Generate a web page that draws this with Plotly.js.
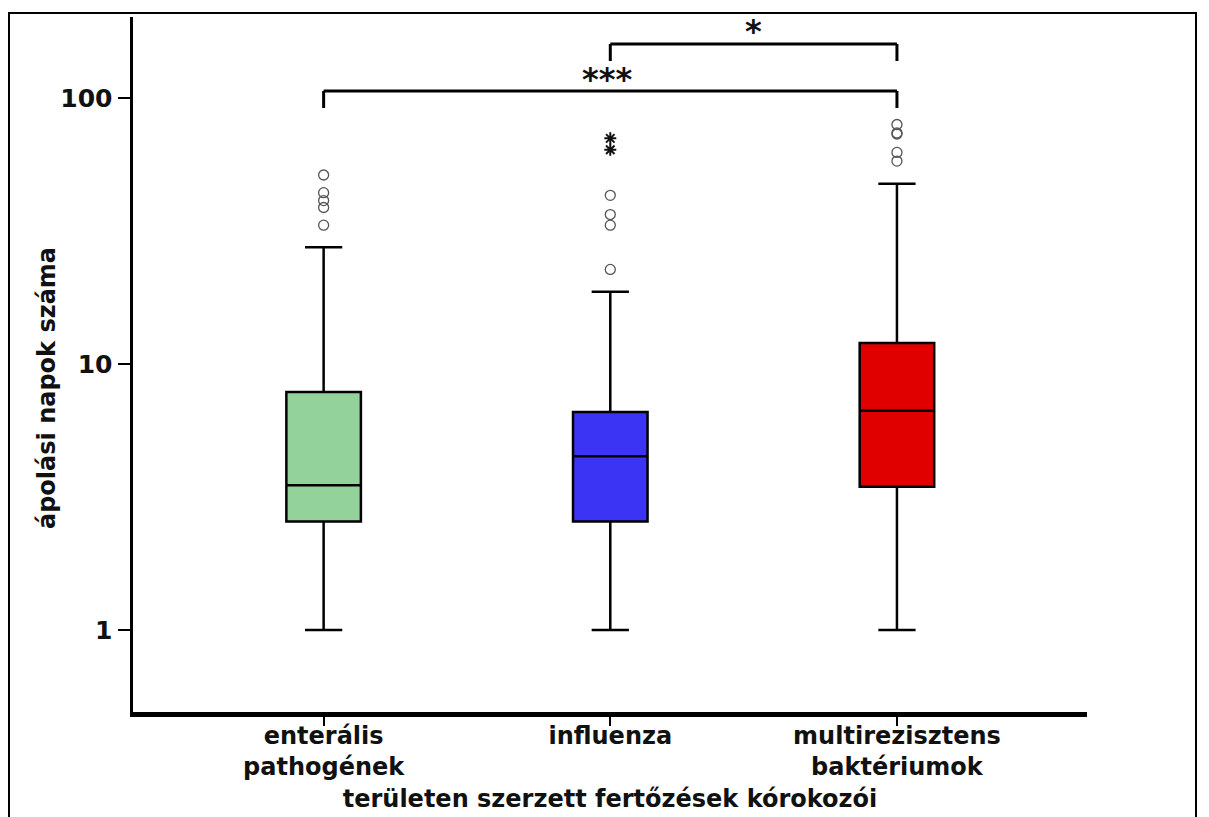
<!DOCTYPE html>
<html>
<head>
<meta charset="utf-8">
<script src="https://cdn.plot.ly/plotly-3.0.1.min.js"></script>
<style>html,body{margin:0;padding:0;background:#fff;}#chart{width:1209px;height:817px;}</style>
</head>
<body>
<div id="chart"></div>
<script>
// ---- data ----
const categories = ["enterális<br>pathogének", "influenza", "multirezisztens<br>baktériumok"];
const q1Values     = [2.56, 2.56, 3.46];
const medianValues = [3.5, 4.5, 6.68];
const q3Values     = [7.85, 6.6, 12.0];
const lowerFences  = [1, 1, 1];
const upperFences  = [27.5, 18.7, 47.6];
const boxColors    = ["#94d29c", "#3c34f5", "#e00000"];

// open-circle outliers
const outlierEnteral   = [51.4, 44.1, 41.2, 38.8, 33.3];
const outlierInfluenza = [43.1, 36.5, 33.3, 22.7];
const outlierMulti     = [79.6, 73.3, 74.0, 62.5, 58.0];
// extreme values (stars)
const extremeInfluenza = [70.6, 64.0];

const yTickVals = [1, 10, 100];
const yTickText = ["1", "10", "100"];

const FONT = "DejaVu Sans, Verdana, sans-serif";

const traces = [];
categories.forEach((c, i) => {
  traces.push({
    type: "box",
    x: [c],
    q1: [q1Values[i]],
    median: [medianValues[i]],
    q3: [q3Values[i]],
    lowerfence: [lowerFences[i]],
    upperfence: [upperFences[i]],
    fillcolor: boxColors[i],
    line: {color: "#000", width: 2.5},
    width: 0.26,
    whiskerwidth: 0.5,
    boxpoints: false,
    hoverinfo: "y",
    showlegend: false
  });
});

function rep(c, arr) { return arr.map(() => c); }
const outlierSets = [outlierEnteral, outlierInfluenza, outlierMulti];
outlierSets.forEach((arr, i) => {
  traces.push({
    type: "scatter", mode: "markers",
    x: rep(categories[i], arr), y: arr,
    marker: {symbol: "circle-open", size: 10, color: "#555", line: {width: 1.3, color: "#555"}},
    showlegend: false
  });
});
traces.push({
  type: "scatter", mode: "markers",
  x: rep(categories[1], extremeInfluenza), y: extremeInfluenza,
  marker: {symbol: "asterisk-open", size: 10, color: "#111", line: {width: 2, color: "#111"}},
  showlegend: false
});

// plot area: x 133..1087, y 17..712
const L = 133, R = 1087, T = 17, B = 712;
const pw = R - L, ph = B - T;
const px = v => (v - L) / pw;
const py = v => (B - v) / ph;

function line(x0, y0, x1, y1, xref) {
  return {type: "line", xref: xref || "x", yref: "paper", x0: x0, x1: x1, y0: y0, y1: y1,
          line: {color: "#000", width: 3}};
}

const shapes = [
  // upper bracket influenza - multi
  line(1, py(61), 1, py(44)), line(1, py(44), 2, py(44)), line(2, py(44), 2, py(61)),
  // lower bracket enteral - multi
  line(0, py(108), 0, py(91)), line(0, py(91), 2, py(91)), line(2, py(91), 2, py(108)),
  // outer frame
  {type: "rect", xref: "paper", yref: "paper", x0: px(9), x1: px(1196), y0: py(13), y1: py(840),
   line: {color: "#000", width: 2}, fillcolor: "rgba(0,0,0,0)", layer: "below"}
];

const layout = {
  width: 1209, height: 817,
  margin: {l: L, r: 1209 - R, t: T, b: 817 - B, pad: 0},
  paper_bgcolor: "#fff", plot_bgcolor: "#fff",
  showlegend: false,
  boxmode: "overlay",
  font: {family: FONT, color: "#111"},
  xaxis: {
    type: "category",
    range: [-0.665, 2.663],
    showline: true, linecolor: "#000", linewidth: 5,
    ticks: "outside", ticklen: 9, tickwidth: 2, tickcolor: "#000",
    ticklabelstandoff: -11,
    showgrid: false, zeroline: false,
    tickfont: {family: FONT, size: 24, color: "#111", weight: "bold"},
    title: {text: "<b>területen szerzett fertőzések kórokozói</b>", font: {family: FONT, size: 24, color: "#111"}, standoff: 12}
  },
  yaxis: {
    type: "log",
    range: [-0.308, 2.305],
    showline: true, linecolor: "#000", linewidth: 3.5,
    ticks: "outside", ticklen: 12, tickwidth: 2.5, tickcolor: "#000",
    tickvals: yTickVals, ticktext: yTickText,
    showgrid: false, zeroline: false,
    tickfont: {family: FONT, size: 25, color: "#111", weight: "bold"}
  },
  annotations: [
    {xref: "paper", yref: "paper", x: px(47), y: py(388), text: "<b>ápolási napok száma</b>", textangle: -90,
     showarrow: false, font: {family: FONT, size: 24, color: "#111"}, xanchor: "center", yanchor: "middle"},
    {xref: "x", yref: "paper", x: 1.5, y: py(31), text: "<b>*</b>", showarrow: false,
     font: {family: FONT, size: 32, color: "#111"}, yanchor: "middle"},
    {xref: "x", yref: "paper", x: 0.99, y: py(79), text: "<b>***</b>", showarrow: false,
     font: {family: FONT, size: 32, color: "#111"}, yanchor: "middle"}
  ],
  shapes: shapes
};

Plotly.newPlot("chart", traces, layout, {displayModeBar: false, staticPlot: true});
</script>
</body>
</html>
